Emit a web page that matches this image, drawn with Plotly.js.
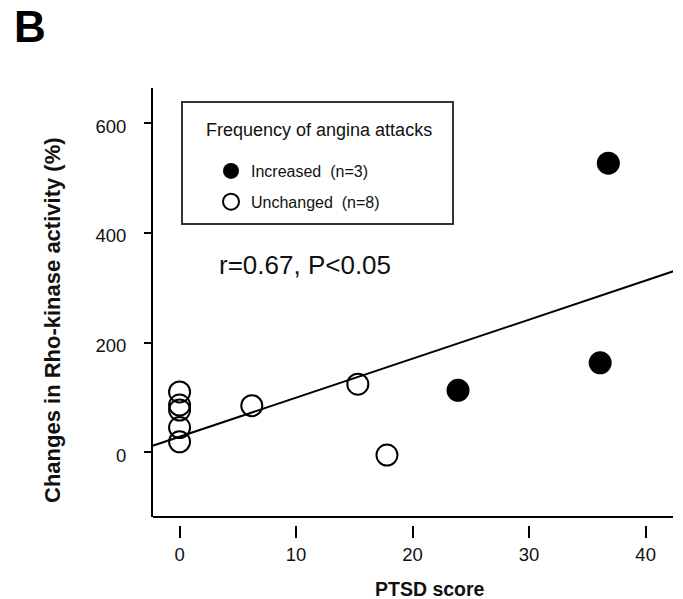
<!DOCTYPE html>
<html>
<head>
<meta charset="utf-8">
<script src="https://cdn.plot.ly/plotly-3.0.1.min.js"></script>
<style>html,body{margin:0;padding:0;background:#fff;}#chart{width:683px;height:599px;}</style>
</head>
<body>
<div id="chart"></div>
<script>
// ---- data ----
const unchangedX = [0, 0, 0, 0, 0, 6.2, 15.3, 17.8];
const unchangedY = [110, 86, 77, 45, 19, 85, 124, -5];
const increasedX = [23.9, 36.1, 36.8];
const increasedY = [113, 163, 527];
const fitX = [-2.3, 42.4];
const fitY = [12, 330];
const xTicks = [0, 10, 20, 30, 40];
const yTicks = [0, 200, 400, 600];
const increasedName = "Increased\u00a0 (n=3)";
const unchangedName = "Unchanged\u00a0 (n=8)";
const legendTitle = "Frequency of angina attacks";
const statText = "r=0.67, P<0.05";
const xTitle = "PTSD score";
const yTitle = "Changes in Rho-kinase activity (%)";
const panelLabel = "B";

// ---- geometry helpers (pixel -> paper) ----
const L = 153, R = 673, T = 88, B = 525;
const W = R - L, H = B - T;
const fx = p => (p - L) / W;
const fy = p => (B - p) / H;
const yDomLow = fy(517);

const FONT = "Liberation Sans, Arial, Helvetica, sans-serif";

const traces = [
  {
    x: fitX, y: fitY, type: "scatter", mode: "lines",
    line: {color: "#000", width: 2}, showlegend: false, hoverinfo: "skip"
  },
  {
    x: increasedX, y: increasedY, type: "scatter", mode: "markers",
    name: increasedName, legendgroup: "a",
    marker: {symbol: "circle", size: 23, color: "#000", line: {width: 0}}
  },
  {
    x: unchangedX, y: unchangedY, type: "scatter", mode: "markers",
    name: unchangedName, legendgroup: "b",
    marker: {symbol: "circle-open", size: 21, color: "#000", line: {width: 2, color: "#000"}}
  }
];

const layout = {
  width: 683, height: 599,
  margin: {l: L, r: 683 - R, t: T, b: 599 - B, pad: 0},
  paper_bgcolor: "#fff", plot_bgcolor: "rgba(0,0,0,0)",
  font: {family: FONT, color: "#111", size: 18},
  showlegend: true,
  legend: {
    x: fx(211), y: fy(154), xanchor: "left", yanchor: "top",
    bgcolor: "rgba(0,0,0,0)", borderwidth: 0,
    font: {family: FONT, size: 16, color: "#111"},
    traceorder: "grouped", tracegroupgap: 7
  },
  xaxis: {
    range: [-2.28, 42.35], anchor: "free", position: 0,
    showline: false, showgrid: false, zeroline: false,
    ticks: "outside", ticklen: 12, tickwidth: 2, tickcolor: "#000",
    tickmode: "array", tickvals: xTicks, ticktext: xTicks.map(String),
    tickfont: {family: FONT, size: 18.5, color: "#111"},
    ticklabelstandoff: 1
  },
  yaxis: {
    domain: [yDomLow, 1], range: [-118, 664],
    showline: true, linewidth: 2, linecolor: "#000",
    showgrid: false, zeroline: false,
    ticks: "outside", ticklen: 7, tickwidth: 2, tickcolor: "#000",
    tickmode: "array", tickvals: yTicks, ticktext: yTicks.map(String),
    tickfont: {family: FONT, size: 18.5, color: "#111"},
    ticklabelstandoff: 14, ticklabelshift: 3
  },
  shapes: [
    {type: "line", xref: "paper", yref: "paper", x0: 0, x1: 1, y0: yDomLow, y1: yDomLow,
     line: {color: "#000", width: 2}},
    {type: "rect", xref: "paper", yref: "paper", x0: fx(182), x1: fx(453), y0: fy(224), y1: fy(102),
     line: {color: "#333", width: 2}, fillcolor: "rgba(0,0,0,0)"}
  ],
  annotations: [
    {text: panelLabel, xref: "paper", yref: "paper", x: fx(12), y: fy(27), xanchor: "left", yanchor: "middle",
     showarrow: false, font: {family: FONT, size: 44, color: "#000", weight: "bold"}},
    {text: "<b>" + xTitle + "</b>", xref: "paper", yref: "paper", x: fx(430), y: fy(589), xanchor: "center", yanchor: "middle",
     showarrow: false, font: {family: FONT, size: 19.5, color: "#111"}},
    {text: "<b>" + yTitle + "</b>", xref: "paper", yref: "paper", x: fx(52), y: fy(320), xanchor: "center", yanchor: "middle",
     textangle: -90, showarrow: false, font: {family: FONT, size: 22, color: "#111"}},
    {text: statText, xref: "paper", yref: "paper", x: fx(305), y: fy(265), xanchor: "center", yanchor: "middle",
     showarrow: false, font: {family: FONT, size: 26, color: "#111"}},
    {text: legendTitle, xref: "paper", yref: "paper", x: fx(204), y: fy(130), xanchor: "left", yanchor: "middle",
     showarrow: false, font: {family: FONT, size: 18, color: "#111"}}
  ],
  hovermode: false
};

Plotly.newPlot("chart", traces, layout, {staticPlot: true, displayModeBar: false});
</script>
</body>
</html>
